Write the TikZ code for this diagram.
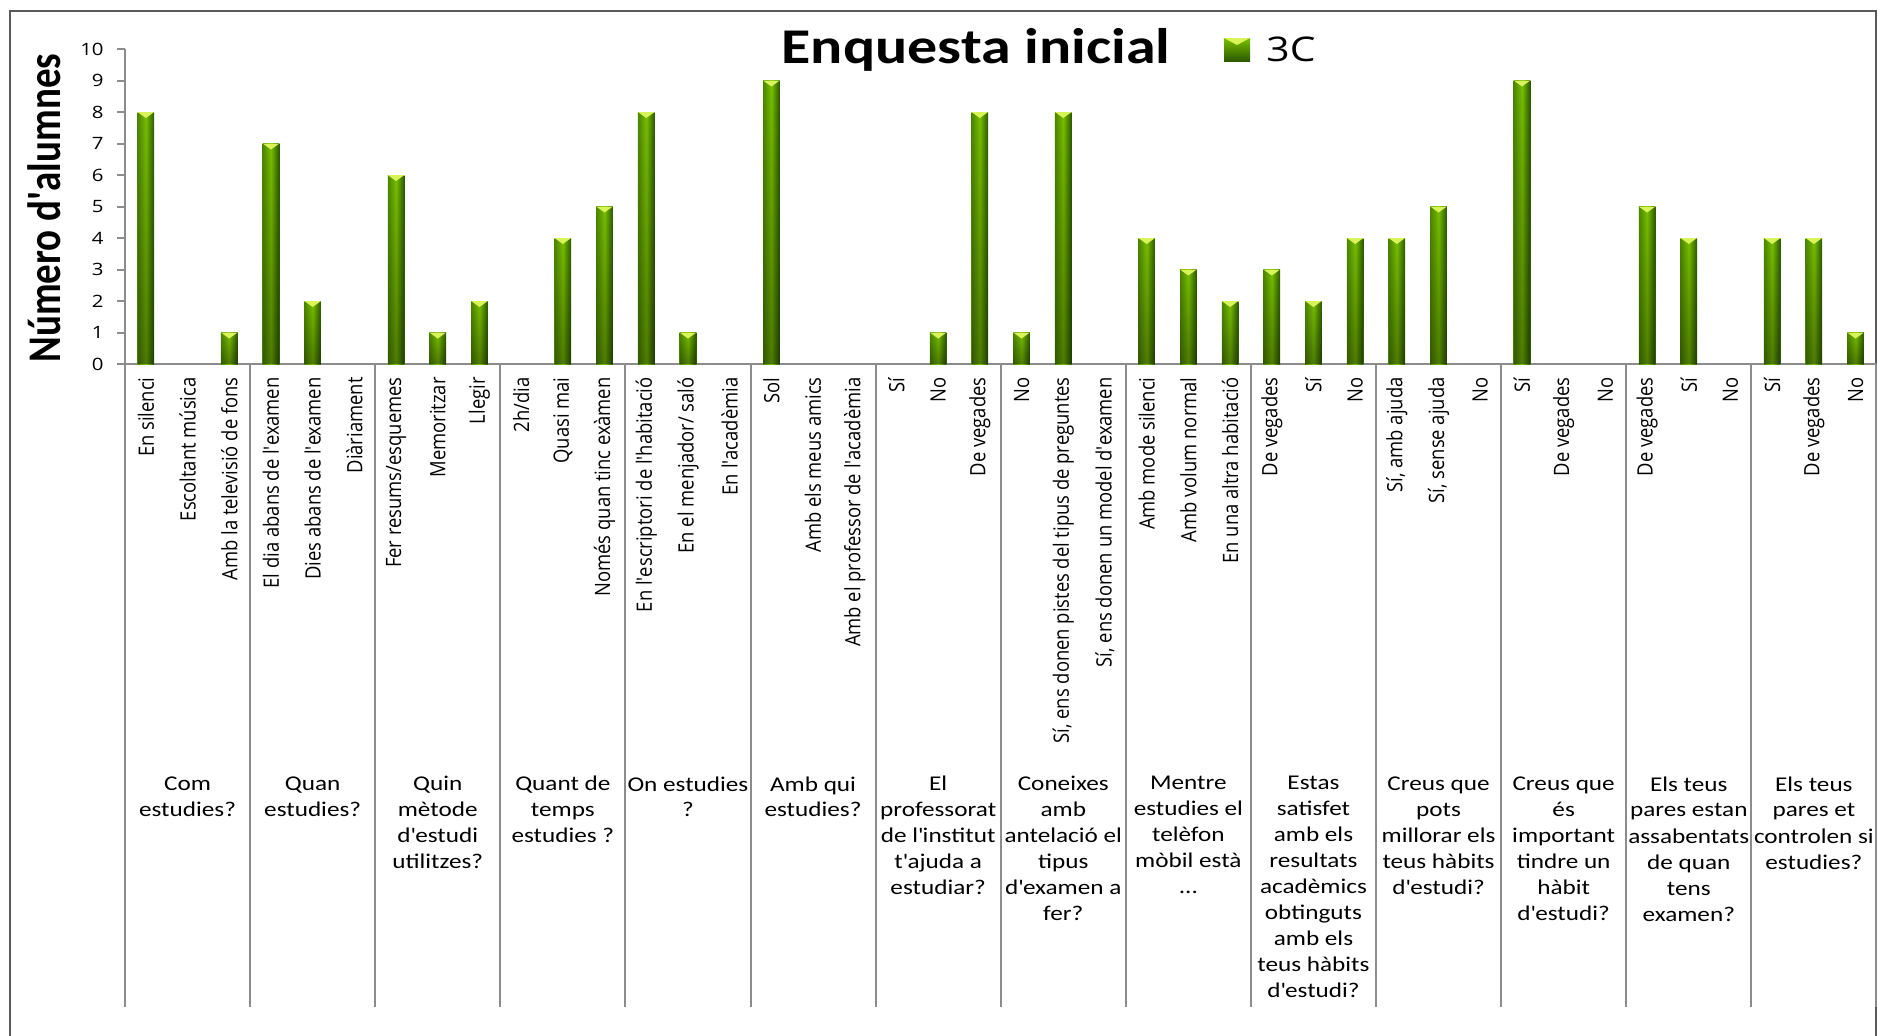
\documentclass[tikz,border=0pt]{standalone}
\usepackage{fontspec}
\setmainfont{Open Sans}
\newfontfamily\lblfont{Open Sans}
\newfontfamily\tickfont{Open Sans}[FakeStretch=1.2]
\newfontfamily\grpfont{Carlito}[FakeStretch=1.2]
\newfontfamily\headfont{Carlito}[FakeStretch=1.2]
\newfontfamily\ytfont{Carlito}
\usetikzlibrary{fadings}

\definecolor{barlight}{HTML}{78C000}
\definecolor{bardark}{HTML}{2C5800}
\definecolor{bartip}{HTML}{D8F458}
\definecolor{gridgray}{HTML}{8C8C8C}
\definecolor{framegray}{HTML}{5A5A5A}

\newcommand{\ap}{\textquotesingle}
% one column of the chart: #1 = category index, #2 = number of pupils
\newcommand{\colbar}[2]{%
  \pgfmathsetmacro{\bx}{catx(#1)}%
  \pgfmathsetmacro{\by}{valy(#2)}%
  \shade[left color=bardark!55!barlight,right color=bardark,middle color=barlight] (\bx-8.3,364) rectangle (\bx+8.3,\by);
  \fill[black,opacity=0.35,path fading=north] (\bx-8.3,364) rectangle (\bx+8.3,\by);
  \fill[bartip] (\bx-8.3,\by) -- (\bx+8.3,\by) -- (\bx,\by+6) -- cycle;
}

\begin{document}
\begin{tikzpicture}[x=0.5pt,y=-0.5pt,
    declare function={catx(\i)=125+41.7*(\i+0.5); grpx(\g)=125+125.1*(\g+0.5); valy(\v)=364-31.5*\v;},
    axisline/.style={draw=gridgray,line width=1pt},
    catlbl/.style={rotate=90,yscale=1.15,anchor=east,inner sep=0pt,font=\lblfont\fontsize{9.2pt}{11pt}\selectfont},
    grplbl/.style={anchor=north,align=center,inner sep=0pt,font=\grpfont\fontsize{10.5pt}{13pt}\selectfont},
    ticklbl/.style={anchor=east,inner sep=0pt,font=\tickfont\fontsize{8.5pt}{10pt}\selectfont}]
\useasboundingbox (0,0) rectangle (1878,1035);
\clip (0,0) rectangle (1878,1035);

% frame
\draw[framegray,line width=0.8pt] (10,1060) -- (10,11) -- (1876,11) -- (1876,1060);

% title and legend
\node[anchor=base,inner sep=0pt,font=\headfont\bfseries\fontsize{25pt}{30pt}\selectfont] (title) at (976,63) {Enquesta inicial};
\shade[top color=barlight,bottom color=bardark] (1224,38) rectangle (1250,61);
\fill[bartip] (1224,38) -- (1250,38) -- (1237,45) -- cycle;
\node[anchor=base west,inner sep=0pt,font=\tickfont\fontsize{17pt}{20pt}\selectfont] (legend) at (1266,61) {3C};

% y axis
\node[rotate=90,yscale=1.2,anchor=base,inner sep=0pt,font=\ytfont\bfseries\fontsize{19.5pt}{23pt}\selectfont] (ytitle) at (60,208) {Número d\ap alumnes};
\draw[axisline] (125,49) -- (125,364);
\draw[axisline] (117,364) -- (1876,364);
\draw[axisline] (117,{valy(1)}) -- (125,{valy(1)});
\draw[axisline] (117,{valy(2)}) -- (125,{valy(2)});
\draw[axisline] (117,{valy(3)}) -- (125,{valy(3)});
\draw[axisline] (117,{valy(4)}) -- (125,{valy(4)});
\draw[axisline] (117,{valy(5)}) -- (125,{valy(5)});
\draw[axisline] (117,{valy(6)}) -- (125,{valy(6)});
\draw[axisline] (117,{valy(7)}) -- (125,{valy(7)});
\draw[axisline] (117,{valy(8)}) -- (125,{valy(8)});
\draw[axisline] (117,{valy(9)}) -- (125,{valy(9)});
\draw[axisline] (117,{valy(10)}) -- (125,{valy(10)});
\node[ticklbl] (t0) at (104,{valy(0)}) {0};
\node[ticklbl] (t1) at (104,{valy(1)}) {1};
\node[ticklbl] (t2) at (104,{valy(2)}) {2};
\node[ticklbl] (t3) at (104,{valy(3)}) {3};
\node[ticklbl] (t4) at (104,{valy(4)}) {4};
\node[ticklbl] (t5) at (104,{valy(5)}) {5};
\node[ticklbl] (t6) at (104,{valy(6)}) {6};
\node[ticklbl] (t7) at (104,{valy(7)}) {7};
\node[ticklbl] (t8) at (104,{valy(8)}) {8};
\node[ticklbl] (t9) at (104,{valy(9)}) {9};
\node[ticklbl] (t10) at (104,{valy(10)}) {10};

% group separators
\draw[axisline] (125,364) -- (125,1007);
\draw[axisline] (250.1,364) -- (250.1,1007);
\draw[axisline] (375.2,364) -- (375.2,1007);
\draw[axisline] (500.3,364) -- (500.3,1007);
\draw[axisline] (625.4,364) -- (625.4,1007);
\draw[axisline] (750.5,364) -- (750.5,1007);
\draw[axisline] (875.6,364) -- (875.6,1007);
\draw[axisline] (1000.7,364) -- (1000.7,1007);
\draw[axisline] (1125.8,364) -- (1125.8,1007);
\draw[axisline] (1250.9,364) -- (1250.9,1007);
\draw[axisline] (1376,364) -- (1376,1007);
\draw[axisline] (1501.1,364) -- (1501.1,1007);
\draw[axisline] (1626.2,364) -- (1626.2,1007);
\draw[axisline] (1751.3,364) -- (1751.3,1007);
\draw[axisline] (1876,364) -- (1876,1007);

% columns
\colbar{0}{8}  \colbar{2}{1}
\colbar{3}{7}  \colbar{4}{2}
\colbar{6}{6}  \colbar{7}{1}  \colbar{8}{2}
\colbar{10}{4} \colbar{11}{5}
\colbar{12}{8} \colbar{13}{1}
\colbar{15}{9}
\colbar{19}{1} \colbar{20}{8}
\colbar{21}{1} \colbar{22}{8}
\colbar{24}{4} \colbar{25}{3} \colbar{26}{2}
\colbar{27}{3} \colbar{28}{2} \colbar{29}{4}
\colbar{30}{4} \colbar{31}{5}
\colbar{33}{9}
\colbar{36}{5} \colbar{37}{4}
\colbar{39}{4} \colbar{40}{4} \colbar{41}{1}

% answers
\node[catlbl] (c0) at ({catx(0)},377) {En silenci};
\node[catlbl] (c1) at ({catx(1)},377) {Escoltant música};
\node[catlbl] (c2) at ({catx(2)},377) {Amb la televisió de fons};
\node[catlbl] (c3) at ({catx(3)},377) {El dia abans de l\ap examen};
\node[catlbl] (c4) at ({catx(4)},377) {Dies abans de l\ap examen};
\node[catlbl] (c5) at ({catx(5)},377) {Diàriament};
\node[catlbl] (c6) at ({catx(6)},377) {Fer resums/esquemes};
\node[catlbl] (c7) at ({catx(7)},377) {Memoritzar};
\node[catlbl] (c8) at ({catx(8)},377) {Llegir};
\node[catlbl] (c9) at ({catx(9)},377) {2h/dia};
\node[catlbl] (c10) at ({catx(10)},377) {Quasi mai};
\node[catlbl] (c11) at ({catx(11)},377) {Només quan tinc exàmen};
\node[catlbl] (c12) at ({catx(12)},377) {En l\ap escriptori de l\ap habitació};
\node[catlbl] (c13) at ({catx(13)},377) {En el menjador/ saló};
\node[catlbl] (c14) at ({catx(14)},377) {En l\ap acadèmia};
\node[catlbl] (c15) at ({catx(15)},377) {Sol};
\node[catlbl] (c16) at ({catx(16)},377) {Amb els meus amics};
\node[catlbl] (c17) at ({catx(17)},377) {Amb el professor de l\ap acadèmia};
\node[catlbl] (c18) at ({catx(18)},377) {Sí};
\node[catlbl] (c19) at ({catx(19)},377) {No};
\node[catlbl] (c20) at ({catx(20)},377) {De vegades};
\node[catlbl] (c21) at ({catx(21)},377) {No};
\node[catlbl] (c22) at ({catx(22)},377) {Sí, ens donen pistes del tipus de preguntes};
\node[catlbl] (c23) at ({catx(23)},377) {Sí, ens donen un model d\ap examen};
\node[catlbl] (c24) at ({catx(24)},377) {Amb mode silenci};
\node[catlbl] (c25) at ({catx(25)},377) {Amb volum normal};
\node[catlbl] (c26) at ({catx(26)},377) {En una altra habitació};
\node[catlbl] (c27) at ({catx(27)},377) {De vegades};
\node[catlbl] (c28) at ({catx(28)},377) {Sí};
\node[catlbl] (c29) at ({catx(29)},377) {No};
\node[catlbl] (c30) at ({catx(30)},377) {Sí, amb ajuda};
\node[catlbl] (c31) at ({catx(31)},377) {Sí, sense ajuda};
\node[catlbl] (c32) at ({catx(32)},377) {No};
\node[catlbl] (c33) at ({catx(33)},377) {Sí};
\node[catlbl] (c34) at ({catx(34)},377) {De vegades};
\node[catlbl] (c35) at ({catx(35)},377) {No};
\node[catlbl] (c36) at ({catx(36)},377) {De vegades};
\node[catlbl] (c37) at ({catx(37)},377) {Sí};
\node[catlbl] (c38) at ({catx(38)},377) {No};
\node[catlbl] (c39) at ({catx(39)},377) {Sí};
\node[catlbl] (c40) at ({catx(40)},377) {De vegades};
\node[catlbl] (c41) at ({catx(41)},377) {No};

% questions
\node[grplbl] (q1) at ({grpx(0)},776) {Com\\estudies?};
\node[grplbl] (q2) at ({grpx(1)},776) {Quan\\estudies?};
\node[grplbl] (q3) at ({grpx(2)},776) {Quin\\mètode\\d\ap estudi\\utilitzes?};
\node[grplbl] (q4) at ({grpx(3)},776) {Quant de\\temps\\estudies ?};
\node[grplbl] (q5) at ({grpx(4)},776) {On estudies\\?};
\node[grplbl] (q6) at ({grpx(5)},776) {Amb qui\\estudies?};
\node[grplbl] (q7) at ({grpx(6)},776) {El\\professorat\\de l\ap institut\\t\ap ajuda a\\estudiar?};
\node[grplbl] (q8) at ({grpx(7)},776) {Coneixes\\amb\\antelació el\\tipus\\d\ap examen a\\fer?};
\node[grplbl] (q9) at ({grpx(8)},776) {Mentre\\estudies el\\telèfon\\mòbil està\\...};
\node[grplbl] (q10) at ({grpx(9)},776) {Estas\\satisfet\\amb els\\resultats\\acadèmics\\obtinguts\\amb els\\teus hàbits\\d\ap estudi?};
\node[grplbl] (q11) at ({grpx(10)},776) {Creus que\\pots\\millorar els\\teus hàbits\\d\ap estudi?};
\node[grplbl] (q12) at ({grpx(11)},776) {Creus que\\és\\important\\tindre un\\hàbit\\d\ap estudi?};
\node[grplbl] (q13) at ({grpx(12)},776) {Els teus\\pares estan\\assabentats\\de quan\\tens\\examen?};
\node[grplbl] (q14) at ({grpx(13)},776) {Els teus\\pares et\\controlen si\\estudies?};

\end{tikzpicture}
\end{document}
